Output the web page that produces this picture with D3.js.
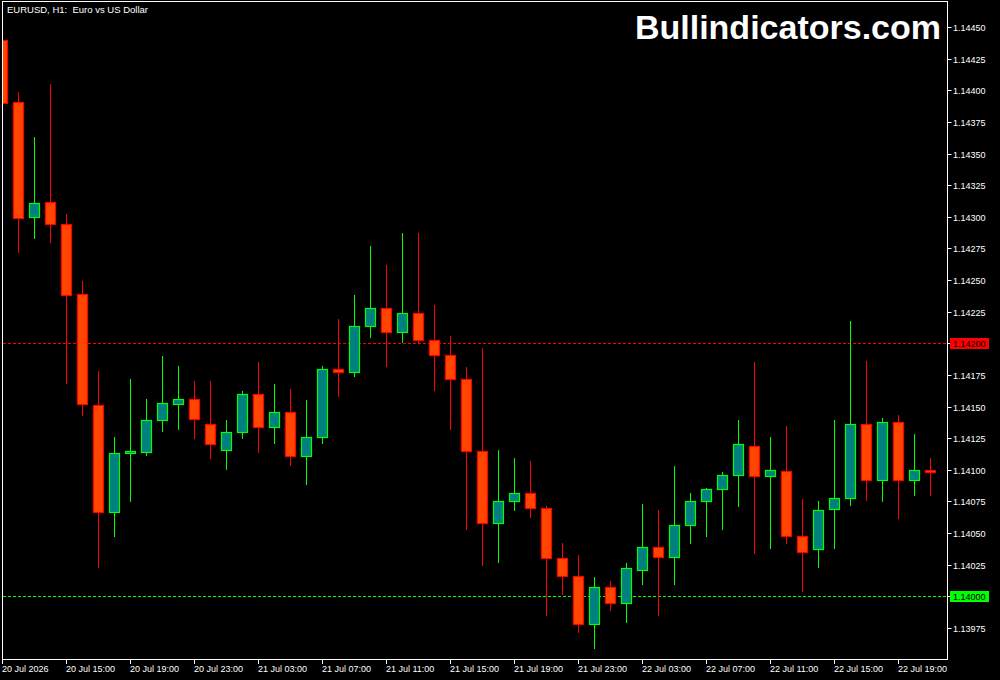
<!DOCTYPE html>
<html><head><meta charset="utf-8">
<script src="https://cdn.jsdelivr.net/npm/d3@7"></script>
<style>html,body{margin:0;padding:0;background:#000;}svg{display:block;}</style>
</head><body>
<script>
const openP  = [1.14440,1.14391,1.14300,1.14312,1.14294,1.14239,1.14151,1.14067,1.14113,1.14114,1.14139,1.14152,1.14156,1.14136,1.14116,1.14130,1.14160,1.14134,1.14146,1.14111,1.14126,1.14180,1.14177,1.14214,1.14228,1.14209,1.14224,1.14203,1.14191,1.14172,1.14115,1.14058,1.14075,1.14082,1.14070,1.14030,1.14016,1.13978,1.14007,1.13995,1.14021,1.14039,1.14031,1.14056,1.14075,1.14085,1.14096,1.14119,1.14095,1.14099,1.14048,1.14037,1.14069,1.14078,1.14136,1.14092,1.14138,1.14092,1.14100];
const highP  = [1.14440,1.14399,1.14363,1.14405,1.14302,1.14249,1.14178,1.14126,1.14172,1.14156,1.14190,1.14182,1.14170,1.14170,1.14139,1.14162,1.14185,1.14168,1.14164,1.14155,1.14182,1.14219,1.14238,1.14277,1.14262,1.14287,1.14287,1.14230,1.14206,1.14181,1.14196,1.14116,1.14109,1.14107,1.14071,1.14042,1.14033,1.14015,1.14012,1.14026,1.14073,1.14068,1.14103,1.14082,1.14086,1.14098,1.14139,1.14185,1.14126,1.14135,1.14077,1.14075,1.14139,1.14218,1.14186,1.14141,1.14143,1.14128,1.14109];
const lowP   = [1.14390,1.14272,1.14283,1.14280,1.14169,1.14143,1.14023,1.14048,1.14075,1.14112,1.14131,1.14132,1.14125,1.14109,1.14101,1.14125,1.14114,1.14121,1.14104,1.14089,1.14121,1.14158,1.14174,1.14205,1.14182,1.14201,1.14200,1.14163,1.14132,1.14053,1.14025,1.14027,1.14068,1.14063,1.13985,1.14002,1.13972,1.13959,1.13989,1.13980,1.14010,1.13985,1.14010,1.14042,1.14048,1.14053,1.14071,1.14034,1.14038,1.14042,1.14004,1.14023,1.14038,1.14072,1.14076,1.14075,1.14062,1.14080,1.14080];
const closeP = [1.14390,1.14299,1.14311,1.14294,1.14238,1.14152,1.14067,1.14113,1.14115,1.14139,1.14153,1.14156,1.14140,1.14120,1.14130,1.14160,1.14134,1.14146,1.14111,1.14126,1.14180,1.14177,1.14214,1.14228,1.14209,1.14224,1.14203,1.14191,1.14172,1.14115,1.14058,1.14075,1.14082,1.14070,1.14030,1.14016,1.13978,1.14007,1.13995,1.14022,1.14039,1.14031,1.14056,1.14075,1.14085,1.14096,1.14120,1.14095,1.14100,1.14048,1.14035,1.14068,1.14078,1.14136,1.14092,1.14138,1.14092,1.14100,1.14098];
const timeTickIndex = [0,4,8,12,16,20,24,28,32,36,40,44,48,52,56];
const timeTickLabels = ["20 Jul 2026","20 Jul 15:00","20 Jul 19:00","20 Jul 23:00","21 Jul 03:00","21 Jul 07:00","21 Jul 11:00","21 Jul 15:00","21 Jul 19:00","21 Jul 23:00","22 Jul 03:00","22 Jul 07:00","22 Jul 11:00","22 Jul 15:00","22 Jul 19:00"];
const priceTicks = [1.13975,1.14000,1.14025,1.14050,1.14075,1.14100,1.14125,1.14150,1.14175,1.14200,1.14225,1.14250,1.14275,1.14300,1.14325,1.14350,1.14375,1.14400,1.14425,1.14450];
const levelLines = [{price:1.14200, color:"#ff0000", label:"1.14200"},{price:1.14000, color:"#00ff00", label:"1.14000"}];
const titleText = "EURUSD, H1:  Euro vs US Dollar";
const watermark = "Bullindicators.com";

const W = 1000, H = 680;
const frame = {left:2.5, top:1.5, right:947.5, bottom:659.5};
const FONT = "'Liberation Sans', Arial, sans-serif";

const candles = openP.map((o,i)=>({i, o, h:highP[i], l:lowP[i], c:closeP[i]}));

const x = d3.scaleLinear().domain([0,58]).range([2.5, 930.5]);
const y = d3.scaleLinear().domain([1.14, 1.142]).range([596.3, 343.3]);
const py = v => Math.round(y(v)) + 0.5;

const svg = d3.select("body").append("svg").attr("width",W).attr("height",H)
  .style("background","#000");

svg.append("defs").append("clipPath").attr("id","plot")
  .append("rect").attr("x",3).attr("y",2).attr("width",944).attr("height",657);

const plot = svg.append("g").attr("clip-path","url(#plot)");

// level lines
plot.selectAll("line.level").data(levelLines).join("line")
  .attr("class","level")
  .attr("x1",3).attr("x2",947)
  .attr("y1",d=>py(d.price)).attr("y2",d=>py(d.price))
  .attr("stroke",d=>d.color).attr("stroke-width",1).attr("stroke-dasharray","3,2");

const bull = d => d.c >= d.o;
// wicks
plot.selectAll("line.wick").data(candles).join("line")
  .attr("class","wick")
  .attr("x1",d=>x(d.i)).attr("x2",d=>x(d.i))
  .attr("y1",d=>py(d.h)-0.5).attr("y2",d=>py(d.l)+0.5)
  .attr("stroke",d=>bull(d)?"#00ff00":"#ff0000").attr("stroke-width",1);
// bodies
plot.selectAll("rect.body").data(candles).join("rect")
  .attr("class","body")
  .attr("x",d=>x(d.i)-5)
  .attr("width",10)
  .attr("y",d=>py(Math.max(d.o,d.c)))
  .attr("height",d=>Math.max(1, py(Math.min(d.o,d.c)) - py(Math.max(d.o,d.c))))
  .attr("fill",d=>bull(d)?"#008080":"#ff4500")
  .attr("stroke",d=>bull(d)?"#00ff00":"#ff0000").attr("stroke-width",1.2);

// frame
svg.append("rect").attr("x",frame.left).attr("y",frame.top)
  .attr("width",frame.right-frame.left).attr("height",frame.bottom-frame.top)
  .attr("fill","none").attr("stroke","#fff").attr("stroke-width",1);

// right price axis
const ra = svg.append("g");
ra.selectAll("line").data(priceTicks).join("line")
  .attr("x1",948).attr("x2",951.5).attr("y1",d=>py(d)).attr("y2",d=>py(d))
  .attr("stroke","#fff");
ra.selectAll("text").data(priceTicks.filter(p=>!levelLines.some(l=>Math.abs(l.price-p)<1e-9))).join("text")
  .attr("x",953).attr("y",d=>py(d)+3.3)
  .attr("fill","#fff").attr("font-family",FONT).attr("font-size","9px")
  .text(d=>d.toFixed(5));
// level labels
const lg = svg.selectAll("g.lvl").data(levelLines).join("g").attr("class","lvl");
lg.append("rect").attr("x",950).attr("y",d=>py(d.price)-5.5).attr("width",39).attr("height",11)
  .attr("fill",d=>d.color);
lg.append("text").attr("x",953).attr("y",d=>py(d.price)+3.3)
  .attr("fill","#000").attr("font-family",FONT).attr("font-size","9px")
  .text(d=>d.label);

// bottom time axis
const ba = svg.append("g");
ba.selectAll("line").data(timeTickIndex).join("line")
  .attr("x1",d=>x(d)).attr("x2",d=>x(d)).attr("y1",659).attr("y2",664)
  .attr("stroke","#fff");
ba.selectAll("text").data(timeTickIndex).join("text")
  .attr("x",d=>x(d)-0.5).attr("y",672)
  .attr("fill","#fff").attr("font-family",FONT).attr("font-size","9px")
  .text((d,k)=>timeTickLabels[k]);

// title
svg.append("text").attr("x",7).attr("y",13).attr("fill","#fff")
  .attr("font-family",FONT).attr("font-size","9.5px").style("white-space","pre")
  .text(titleText);

// watermark
svg.append("text").attr("x",941).attr("y",39).attr("text-anchor","end")
  .attr("fill","#fff").attr("font-family",FONT).attr("font-weight","bold").attr("font-size","34px")
  .text(watermark);
</script>
</body></html>
